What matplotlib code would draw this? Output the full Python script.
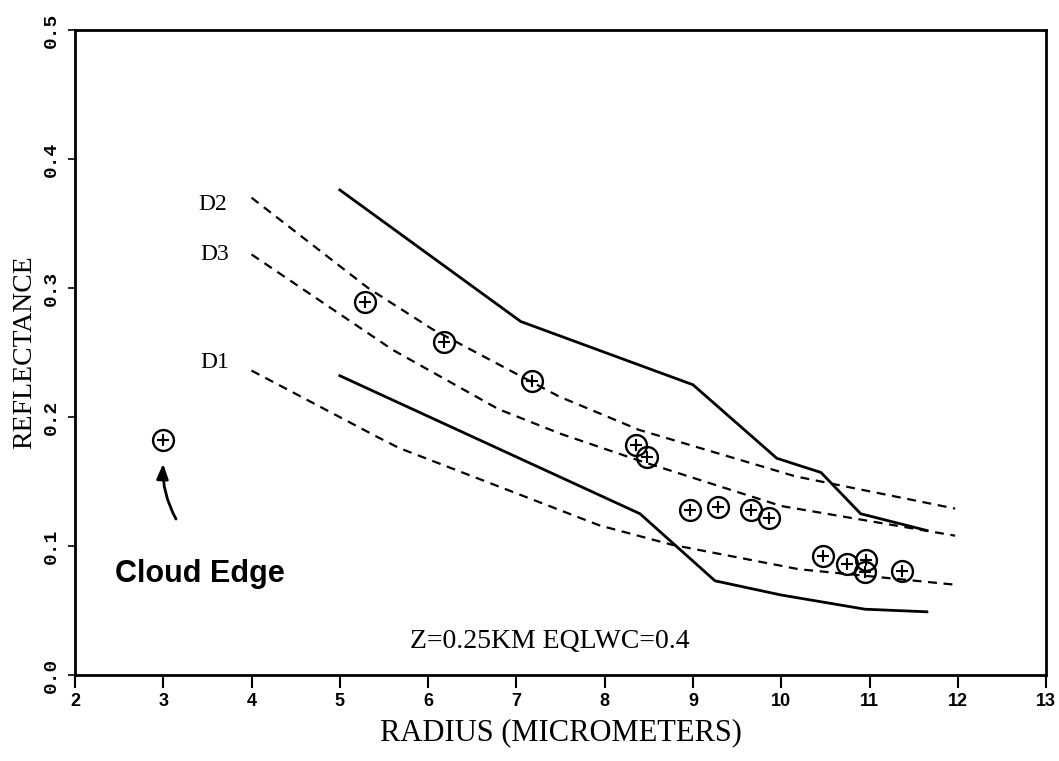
import matplotlib
matplotlib.use("Agg")
import matplotlib.pyplot as plt
import numpy as np

# upper and lower solid bounds
upper_x = [5.0, 7.05, 9.0, 9.95, 10.45, 10.9, 11.65]
upper_y = [0.376, 0.274, 0.225, 0.168, 0.157, 0.125, 0.112]
lower_x = [5.0, 8.4, 9.25, 10.0, 10.95, 11.65]
lower_y = [0.232, 0.125, 0.073, 0.062, 0.051, 0.049]

# dashed model curves
d2_x = [4.0, 5.32, 6.05, 7.48, 8.39, 10.16, 11.97]
d2_y = [0.370, 0.300, 0.268, 0.216, 0.190, 0.154, 0.129]
d3_x = [4.0, 5.6, 6.8, 7.5, 8.4, 10.0, 11.97]
d3_y = [0.326, 0.252, 0.206, 0.187, 0.166, 0.131, 0.108]
d1_x = [4.0, 5.44, 5.67, 7.94, 8.76, 10.2, 11.97]
d1_y = [0.236, 0.184, 0.176, 0.116, 0.101, 0.082, 0.070]

# measured points
obs_x = [5.28, 6.18, 7.18, 8.36, 8.48, 8.97, 9.28, 9.66, 9.86,
         10.47, 10.75, 10.96, 10.95, 11.37]
obs_y = [0.289, 0.258, 0.228, 0.178, 0.169, 0.128, 0.130, 0.128, 0.122,
         0.092, 0.086, 0.089, 0.080, 0.081]
edge_x = [3.0]
edge_y = [0.182]

xticks = list(range(2, 14))
yticks = [0.0, 0.1, 0.2, 0.3, 0.4, 0.5]

fig = plt.figure(figsize=(10.59, 7.61), dpi=100)
ax = fig.add_axes([0.0708, 0.113, 0.917, 0.8476])

ax.plot(upper_x, upper_y, color="black", lw=2.0)
ax.plot(lower_x, lower_y, color="black", lw=2.0)
for cx, cy in [(d2_x, d2_y), (d3_x, d3_y), (d1_x, d1_y)]:
    ax.plot(cx, cy, color="black", lw=1.6, ls=(0, (4, 3)))

for px, py in [(obs_x, obs_y), (edge_x, edge_y)]:
    ax.plot(px, py, "o", ms=15, mfc="none", mec="black", mew=1.7, ls="none")
    ax.plot(px, py, "+", ms=9, mec="black", mew=1.5, ls="none")

serif = "Liberation Serif"
ax.text(3.56, 0.365, "D2", fontsize=17, family=serif, ha="center", va="center")
ax.text(3.58, 0.326, "D3", fontsize=17, family=serif, ha="center", va="center")
ax.text(3.58, 0.242, "D1", fontsize=17, family=serif, ha="center", va="center")
ax.text(7.38, 0.026, "Z=0.25KM EQLWC=0.4", fontsize=20, family=serif,
        ha="center", va="center")
ax.text(3.42, 0.078, "Cloud Edge", fontsize=22, family="Liberation Sans",
        fontweight="bold", ha="center", va="center")
ax.annotate("", xy=(3.0, 0.166), xytext=(3.16, 0.119),
            arrowprops=dict(arrowstyle="-|>,head_length=0.9,head_width=0.35",
                            color="black", lw=2.0,
                            connectionstyle="arc3,rad=-0.15"))

ax.set_xlim(2, 13)
ax.set_ylim(0, 0.5)
ax.set_xticks(xticks)
ax.set_xticklabels([str(t) for t in xticks], fontsize=13,
                   family="Liberation Sans", fontweight="bold")
ax.set_yticks(yticks)
ax.set_yticklabels(["%.1f" % t for t in yticks], fontsize=14,
                   family="Liberation Mono", fontweight="bold",
                   rotation=90, va="center")
ax.tick_params(axis="x", direction="out", length=9, width=1.5, pad=4)
ax.tick_params(axis="y", direction="out", length=5, width=1.2, pad=6)
for s in ax.spines.values():
    s.set_linewidth(2.0)

ax.set_xlabel("RADIUS (MICROMETERS)", fontsize=22, family=serif, labelpad=6)
ax.set_ylabel("REFLECTANCE", fontsize=20, family=serif, labelpad=4)

fig.savefig("out.png", dpi=100)
